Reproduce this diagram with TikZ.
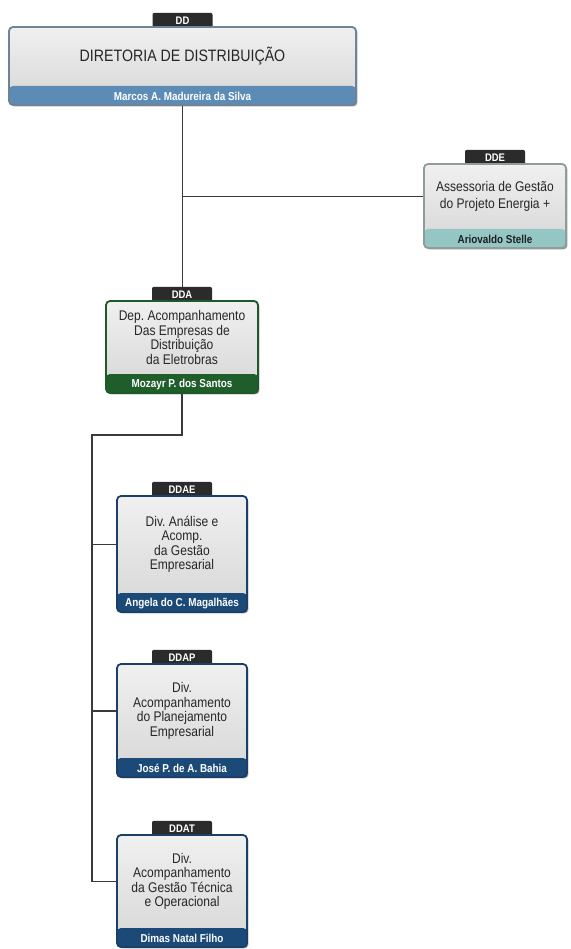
\documentclass[tikz,border=0pt]{standalone}
\usepackage{fontspec}
\newfontfamily\orgfont[FakeStretch=0.86]{Liberation Sans}
\usetikzlibrary{fit,shadows,calc,backgrounds}
\frenchspacing

% box body and tab
\definecolor{boxtop}{HTML}{F0F0F0}
\definecolor{boxbottom}{HTML}{D6D6D6}
\definecolor{tabfill}{HTML}{2B2B2B}
\definecolor{bodytext}{HTML}{262626}
\definecolor{linkcol}{HTML}{3A3A3A}
% themes: frame, band and band text of each unit
\definecolor{blueline}{HTML}{6F8396}
\definecolor{blueband}{HTML}{5C8CB6}
\colorlet{bluetext}{white}
\definecolor{tealline}{HTML}{8E9C9C}
\definecolor{tealband}{HTML}{94C7C4}
\definecolor{tealtext}{HTML}{1E1E1E}
\definecolor{greenline}{HTML}{1E5A28}
\definecolor{greenband}{HTML}{1F5E2A}
\colorlet{greentext}{white}
\definecolor{navyline}{HTML}{1B3F66}
\definecolor{navyband}{HTML}{1C4A78}
\colorlet{navytext}{white}

\tikzset{
  x=1pt, y=-1pt,
  unitbox/.style={rounded corners=4pt, line width=1.8pt, inner sep=0pt,
    top color=boxtop, bottom color=boxbottom,
    drop shadow={shadow xshift=1.4pt, shadow yshift=-1.4pt, opacity=0.5, fill=black!80}},
  unittab/.style={fill=tabfill, rounded corners=2pt, minimum width=60pt,
    minimum height=16pt, inner sep=0pt, anchor=south, text=white,
    font=\orgfont\bfseries\fontsize{11}{11}\selectfont},
  unittitle/.style={align=center, inner sep=0pt, text=bodytext,
    font=\orgfont\fontsize{14}{14.5}\selectfont},
  unitperson/.style={inner sep=0pt, font=\orgfont\bfseries\fontsize{11.5}{12}\selectfont},
  link/.style={draw=linkcol, line width=1.3pt}
}

% #1 name, #2 left, #3 top, #4 right, #5 bottom, #6 theme, #7 code, #8 title, #9 person
\newcommand\orgunit[9]{%
  \node[unittab] (#1-tab) at ({(#2+#4)/2},{#3+2}) {#7};
  \node[unitbox, draw=#6line, fit={(#2,#3) (#4,#5)},
    path picture={\fill[#6band] ([yshift=19pt]path picture bounding box.south west)
      rectangle (path picture bounding box.south east);}] (#1) {};
  \node[unittitle] (#1-title) at ($(#1.north)!0.5!([yshift=19pt]#1.south)$) {#8};
  \node[unitperson, text=#6text] (#1-person) at ([yshift=9.5pt]#1.south) {#9};
}

\begin{document}
\begin{tikzpicture}
\useasboundingbox (0,0) rectangle (570,949);

\orgunit{dd}{9}{27}{356}{105}{blue}{DD}
  {{\fontsize{16.5}{18}\selectfont DIRETORIA DE DISTRIBUIÇÃO}}
  {Marcos A. Madureira da Silva}

\orgunit{dde}{424}{164}{566}{248}{teal}{DDE}
  {Assessoria de Gestão\\[2.5pt]do Projeto Energia +}
  {Ariovaldo Stelle}

\orgunit{dda}{106}{301}{258}{393}{green}{DDA}
  {Dep. Acompanhamento\\Das Empresas de\\Distribuição\\da Eletrobras}
  {Mozayr P. dos Santos}

\orgunit{ddae}{117}{496}{247}{612}{navy}{DDAE}
  {Div. Análise e\\Acomp.\\da Gestão\\Empresarial}
  {Angela do C. Magalhães}

\orgunit{ddap}{117}{664}{247}{777}{navy}{DDAP}
  {Div.\\Acompanhamento\\do Planejamento\\Empresarial}
  {José P. de A. Bahia}

\orgunit{ddat}{117}{835}{247}{947}{navy}{DDAT}
  {Div.\\Acompanhamento\\da Gestão Técnica\\e Operacional}
  {Dimas Natal Filho}

% page and connectors, behind the units
\begin{scope}[on background layer]
  \fill[white] (0,0) rectangle (570,949);
  \coordinate (j1) at (dd.south |- dde-title);
  \coordinate (rail) at (92,435);
  \draw[link] (dd.south) -- (dd.south |- dda-tab.north);
  \draw[link] (j1) -- (j1 -| dde.west);
  \draw[link] (dda.south) |- (rail) -- (rail |- ddat-title);
  \draw[link] (rail |- ddae-title) -- (ddae.west |- ddae-title);
  \draw[link] (rail |- ddap-title) -- (ddap.west |- ddap-title);
  \draw[link] (rail |- ddat-title) -- (ddat.west |- ddat-title);
\end{scope}
\end{tikzpicture}
\end{document}
